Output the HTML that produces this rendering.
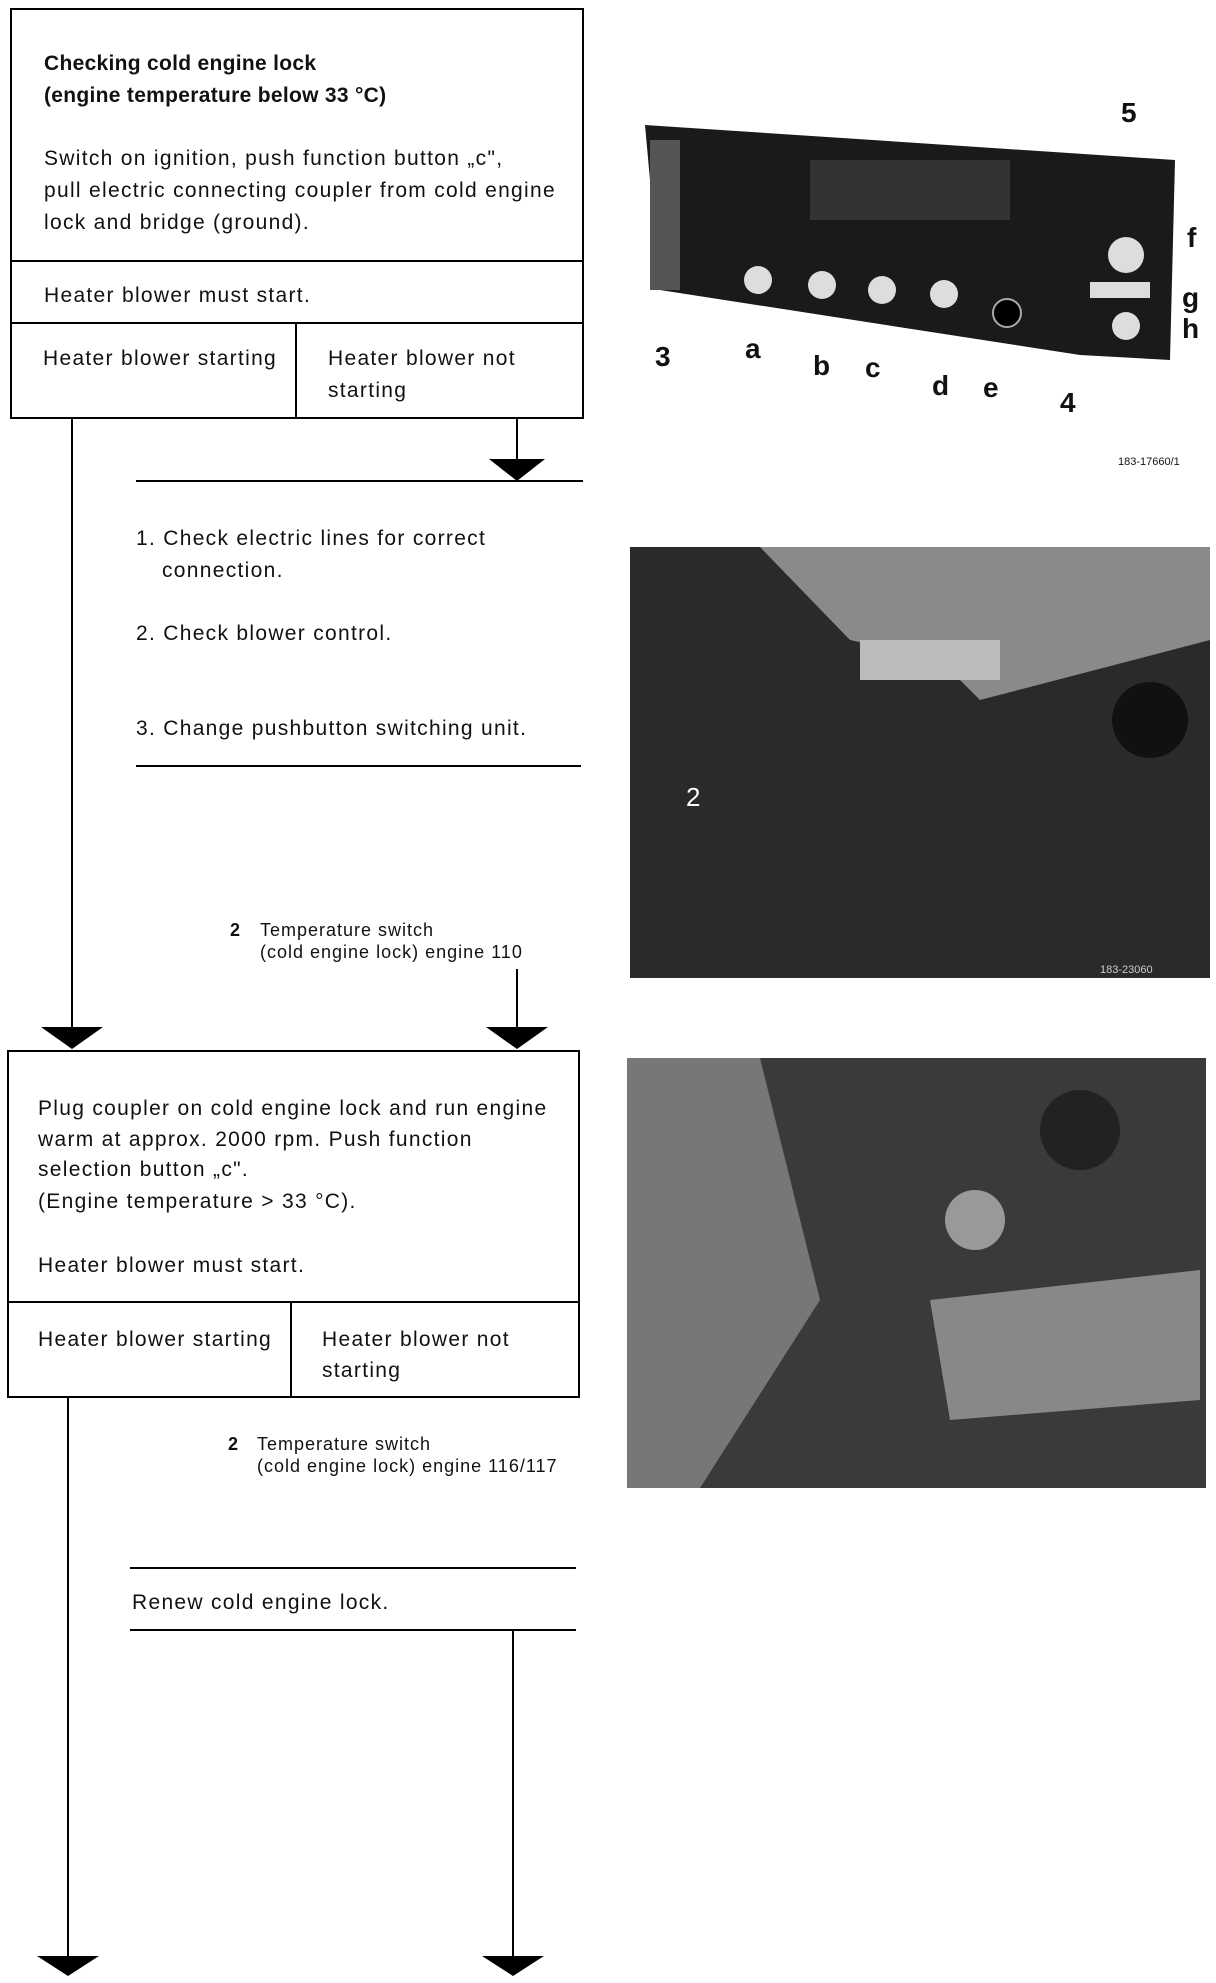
<!DOCTYPE html>
<html><head><meta charset="utf-8"><style>
html,body{margin:0;padding:0;background:#fff;}
svg text{font-family:"Liberation Sans",sans-serif;fill:#111;}
.m{letter-spacing:1.3px;}
.c{letter-spacing:1px;}
</style></head><body>
<svg width="1216" height="1978" viewBox="0 0 1216 1978" xmlns="http://www.w3.org/2000/svg">
<g stroke="#000" stroke-width="2" fill="none">
<rect x="11" y="9" width="572" height="409"/>
<line x1="11" y1="261" x2="583" y2="261"/>
<line x1="11" y1="323" x2="583" y2="323"/>
<line x1="296" y1="323" x2="296" y2="418"/>
<line x1="72" y1="418" x2="72" y2="1028"/>
<line x1="517" y1="418" x2="517" y2="460"/>
<line x1="136" y1="481" x2="583" y2="481"/>
<line x1="136" y1="766" x2="581" y2="766"/>
<line x1="517" y1="969" x2="517" y2="1028"/>
<rect x="8" y="1051" width="571" height="346"/>
<line x1="8" y1="1302" x2="579" y2="1302"/>
<line x1="291" y1="1302" x2="291" y2="1397"/>
<line x1="68" y1="1397" x2="68" y2="1958"/>
<line x1="130" y1="1568" x2="576" y2="1568"/>
<line x1="130" y1="1630" x2="576" y2="1630"/>
<line x1="513" y1="1630" x2="513" y2="1958"/>
</g>
<g fill="#000">
<polygon points="489,459 545,459 517,481"/>
<polygon points="41,1027 103,1027 72,1049"/>
<polygon points="486,1027 548,1027 517,1049"/>
<polygon points="37,1956 99,1956 68,1976"/>
<polygon points="482,1956 544,1956 513,1976"/>
</g>
<g font-size="21" class="m">
<text x="44" y="70" font-weight="bold" style="letter-spacing:0.3px">Checking cold engine lock</text>
<text x="44" y="102" font-weight="bold" style="letter-spacing:0.3px">(engine temperature below 33 °C)</text>
<text x="44" y="165">Switch on ignition, push function button „c",</text>
<text x="44" y="197">pull electric connecting coupler from cold engine</text>
<text x="44" y="229">lock and bridge (ground).</text>
<text x="44" y="302">Heater blower must start.</text>
<text x="43" y="365">Heater blower starting</text>
<text x="328" y="365">Heater blower not</text>
<text x="328" y="397">starting</text>
<text x="136" y="545">1. Check electric lines for correct</text>
<text x="162" y="577">connection.</text>
<text x="136" y="640">2. Check blower control.</text>
<text x="136" y="735">3. Change pushbutton switching unit.</text>
<text x="38" y="1115">Plug coupler on cold engine lock and run engine</text>
<text x="38" y="1146">warm at approx. 2000 rpm. Push function</text>
<text x="38" y="1176">selection button „c".</text>
<text x="38" y="1208">(Engine temperature &gt; 33 °C).</text>
<text x="38" y="1272">Heater blower must start.</text>
<text x="38" y="1346">Heater blower starting</text>
<text x="322" y="1346">Heater blower not</text>
<text x="322" y="1377">starting</text>
<text x="132" y="1609">Renew cold engine lock.</text>
</g>
<g font-size="18" class="c">
<text x="230" y="936" font-weight="bold">2</text>
<text x="260" y="936">Temperature switch</text>
<text x="260" y="958">(cold engine lock) engine 110</text>
<text x="228" y="1450" font-weight="bold">2</text>
<text x="257" y="1450">Temperature switch</text>
<text x="257" y="1472">(cold engine lock) engine 116/117</text>
</g>
<!-- photo 1 -->
<polygon points="645,125 1175,160 1170,360 1080,355 660,290" fill="#1a1a1a"/>
<rect x="810" y="160" width="200" height="60" fill="#333"/>
<rect x="650" y="140" width="30" height="150" fill="#555"/>
<g fill="#ddd">
<circle cx="758" cy="280" r="14"/><circle cx="822" cy="285" r="14"/><circle cx="882" cy="290" r="14"/><circle cx="944" cy="294" r="14"/>
<circle cx="1126" cy="255" r="18"/><rect x="1090" y="282" width="60" height="16"/><circle cx="1126" cy="326" r="14"/>
</g>
<circle cx="1007" cy="313" r="14" fill="#000" stroke="#aaa" stroke-width="2"/>
<g font-size="28" font-weight="bold">
<text x="655" y="366">3</text><text x="745" y="358">a</text><text x="813" y="375">b</text><text x="865" y="377">c</text><text x="932" y="395">d</text><text x="983" y="397">e</text><text x="1060" y="412">4</text><text x="1121" y="122">5</text><text x="1187" y="247">f</text><text x="1182" y="307">g</text><text x="1182" y="338">h</text>
</g>
<text x="1118" y="465" font-size="11">183-17660/1</text>
<!-- photo 2 -->
<rect x="630" y="547" width="580" height="431" fill="#2a2a2a"/>
<polygon points="760,547 1210,547 1210,640 980,700 940,660 850,640" fill="#8a8a8a"/>
<polygon points="860,640 1000,640 1000,680 860,680" fill="#bbb"/>
<circle cx="1150" cy="720" r="38" fill="#111"/>
<text x="686" y="806" font-size="26" style="fill:#fff">2</text>
<text x="1100" y="973" font-size="11" style="fill:#ccc">183-23060</text>
<!-- photo 3 -->
<rect x="627" y="1058" width="579" height="430" fill="#3a3a3a"/>
<polygon points="627,1058 760,1058 820,1300 700,1488 627,1488" fill="#777"/>
<circle cx="975" cy="1220" r="30" fill="#999"/>
<polygon points="930,1300 1200,1270 1200,1400 950,1420" fill="#888"/>
<circle cx="1080" cy="1130" r="40" fill="#222"/>
</svg>
</body></html>
